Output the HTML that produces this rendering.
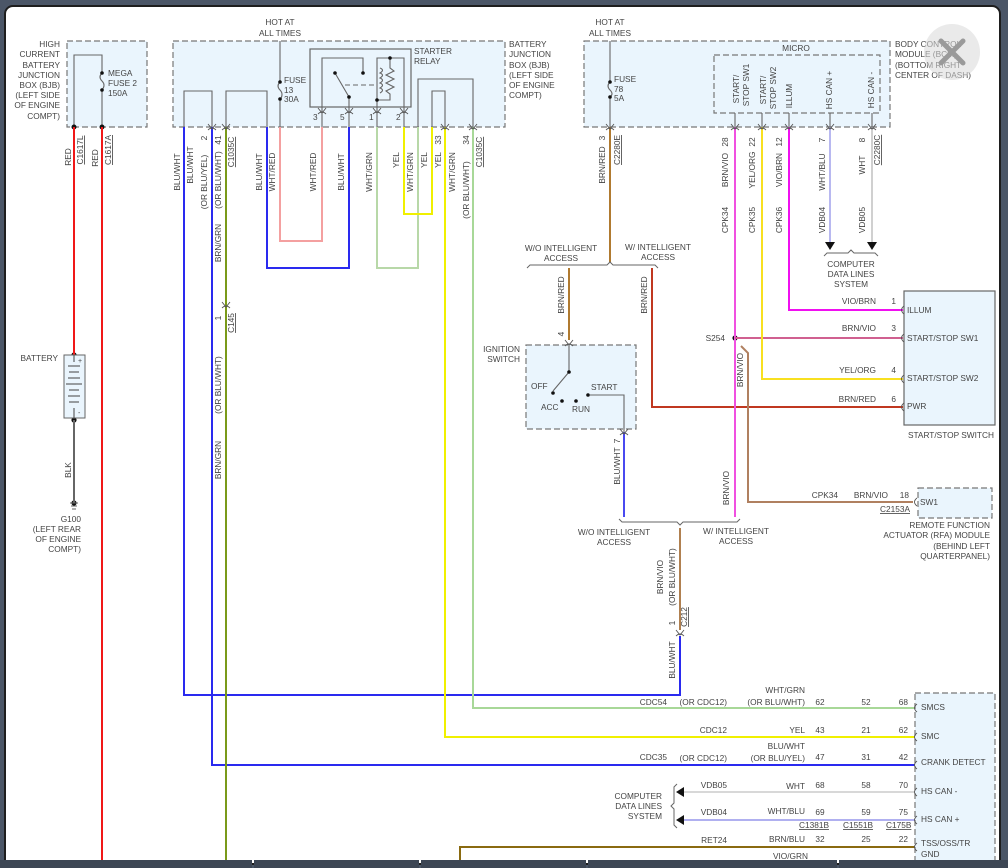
<!DOCTYPE html>
<html><head><meta charset="utf-8"><style>
html,body{margin:0;padding:0;background:#4b5667;width:1008px;height:868px;overflow:hidden}
#p{position:absolute;left:4px;top:5px;width:997px;height:860px;background:#fff;border:2px solid #1e1e1e;border-radius:9px 9px 0 0;box-sizing:border-box}
svg{position:absolute;left:0;top:0}
text{font-family:"Liberation Sans",sans-serif;font-size:8.3px;fill:#444}
.bar{position:absolute;top:860px;height:8px;background:#3d4654}
</style></head><body>
<div id="p"></div>
<svg width="1008" height="868" viewBox="0 0 1008 868">
<defs>
<g id="cn"><path d="M-4,-3 L0,2 L4,-3" fill="none" stroke="#555" stroke-width="0.9"/><path d="M-4,3 Q0,-1 4,3" fill="none" stroke="#555" stroke-width="0.9"/></g>
<g id="cl"><path d="M4,-4 Q-1,0 4,4" fill="none" stroke="#555" stroke-width="0.9"/></g>
</defs>
<g fill="#eaf5fd" stroke="#777" stroke-width="1.2" stroke-dasharray="6,3">
<rect x="67" y="41" width="80" height="86"/>
<rect x="173" y="41" width="332" height="86"/>
<rect x="584" y="41" width="306" height="86"/>
<rect x="526" y="345" width="110" height="84"/>
<rect x="918" y="488" width="74" height="30"/>
<rect x="915" y="693" width="80" height="180"/>
</g>
<rect x="714" y="55" width="166" height="58" fill="none" stroke="#777" stroke-width="1.2" stroke-dasharray="6,3"/>
<rect x="904" y="291" width="91" height="134" fill="#eaf5fd" stroke="#666" stroke-width="1.2"/>
<rect x="310" y="49" width="101" height="58" fill="none" stroke="#666" stroke-width="1.2"/>
<g fill="none" stroke="#666" stroke-width="1.1">
<path d="M74,127 V55 H102 V73 M102,90 V127"/>
<path d="M102,73 q-4,4 0,8 q4,4 0,9"/>
<path d="M280,41 V82 M280,100 V127"/><path d="M280,82 q-4,4 0,8 q4,4 0,10"/>
<path d="M610,41 V82 M610,97 V127"/><path d="M610,82 q-4,4 0,8 q4,4 0,7"/>
<path d="M184,127 V91 H212 V127 M226,127 V91 H267 V127"/>
<path d="M322,107 V58 H363 V73 M349,97 L335,73 M349,97 V127 M322,107 V127"/>
<path d="M377,127 V58 H404 V127 M390,58 V68 l4,3 -8,4 8,4 -8,4 8,4 -8,4 4,3 V100 H377"/>
<path d="M380,68 q5,2 0,5 q5,2 0,5 q5,2 0,5 q5,2 0,5 q5,2 0,5" />
<path d="M345,85 H375" stroke-dasharray="5,3"/>
<path d="M418,127 V79 H473 V127 M432,127 V91 H445 V127"/>
<path d="M735,113 V127 M762,113 V127 M789,113 V127 M830,113 V127 M872,113 V127"/>
<path d="M569,345 V372 L553,391 M590,395 H624 V432"/>
</g>
<g fill="#111">
<circle cx="74" cy="127" r="2.5"/><circle cx="102" cy="127" r="2.5"/><circle cx="102" cy="73" r="1.8"/><circle cx="102" cy="90" r="1.8"/>
<circle cx="280" cy="82" r="1.8"/><circle cx="280" cy="99" r="1.8"/><circle cx="610" cy="82" r="1.8"/><circle cx="610" cy="97" r="1.8"/>
<circle cx="363" cy="73" r="1.8"/><circle cx="335" cy="73" r="1.8"/><circle cx="349" cy="97" r="1.8"/><circle cx="390" cy="58" r="1.8"/><circle cx="377" cy="100" r="1.8"/>
<circle cx="569" cy="372" r="1.8"/><circle cx="553" cy="393" r="1.8"/><circle cx="562" cy="401" r="1.8"/><circle cx="576" cy="401" r="1.8"/><circle cx="588" cy="395" r="1.8"/>
<circle cx="735" cy="338" r="2.6"/><circle cx="74" cy="355" r="2.6"/><circle cx="74" cy="420" r="2.6"/><circle cx="74" cy="503" r="2.6"/>
</g>
<g fill="none" stroke-width="2">
<path d="M74,127 V355" stroke="#f01818"/><path d="M102,127 V868" stroke="#f01818"/>
<path d="M74,420 V503" stroke="#666"/>
<path d="M184,127 V695 H680 V636" stroke="#2a2aef"/>
<path d="M212,127 V765 H915" stroke="#2a2aef"/>
<path d="M226,127 V868" stroke="#7a9a1a"/>
<path d="M267,127 V268 H349 V127" stroke="#2a2aef"/>
<path d="M280,127 V241 H322 V127" stroke="#f4a0a0"/>
<path d="M377,127 V268 H418 V127" stroke="#b8d8a8"/>
<path d="M404,127 V214 H432 V127" stroke="#f0f000"/>
<path d="M445,127 V737 H915" stroke="#f0f000"/>
<path d="M473,127 V708 H915" stroke="#a8d898"/>
<path d="M610,127 V262" stroke="#b07a30"/>
<path d="M569,268 V340" stroke="#b07a30"/>
<path d="M652,268 V407 H903" stroke="#c03820"/>
<path d="M735,127 V517" stroke="#f050e0"/>
<path d="M735,338 H903" stroke="#d06090"/>
<path d="M741,346 L748,353 V502 H913" stroke="#b08060"/>
<path d="M762,127 V379 H903" stroke="#f8e020"/>
<path d="M789,127 V310 H903" stroke="#f010f0"/>
<path d="M830,127 V244" stroke="#b8b8f0"/><path d="M872,127 V244" stroke="#d0d0d0"/>
<path d="M624,432 V517" stroke="#4a4af0"/>
<path d="M680,528 V630" stroke="#b08050"/>
<path d="M684,792 H915" stroke="#d8d8d8"/><path d="M684,820 H915" stroke="#b0b0f0"/>
<path d="M460,868 V847 H915" stroke="#8a6a10"/>
</g>
<g fill="#111"><path d="M825,242 h10 l-5,8z M867,242 h10 l-5,8z M676,792 l8,-5 v10z M676,820 l8,-5 v10z"/></g>
<g fill="none" stroke="#666" stroke-width="1">
<path d="M527,268 l3,-3 H607 l3,-3 3,3 H655 l3,3"/>
<path d="M824,256 l3,-3 H848 l3,-3 3,3 H875 l3,3"/>
<path d="M619,519 l3,3 H677 l3,3 3,-3 H737 l3,-3"/>
<path d="M677,784 l-3,3 V803 l-3,3 3,3 V825 l3,3"/>
<path d="M70,503 h8 M71,506 h6 M72,509 h4"/>
</g>
<rect x="64" y="355" width="21" height="63" fill="#eaf5fd" stroke="#666"/>
<g stroke="#444" stroke-width="1"><path d="M74,355 V362 M68,366 h12 M69,372 h10 M68,378 h12 M66,384 h16 M69,390 h10 M68,396 h12 M69,402 h10 M74,408 V418"/></g>
<text x="78" y="363" style="font-size:7px">+</text><text x="78" y="415" style="font-size:7px">-</text>
<g>
<use href="#cn" x="212" y="127"/><use href="#cn" x="226" y="127"/><use href="#cn" x="322" y="111"/><use href="#cn" x="349" y="111"/><use href="#cn" x="377" y="111"/><use href="#cn" x="404" y="111"/>
<use href="#cn" x="445" y="127"/><use href="#cn" x="473" y="127"/><use href="#cn" x="610" y="127"/><use href="#cn" x="735" y="127"/><use href="#cn" x="762" y="127"/><use href="#cn" x="789" y="127"/><use href="#cn" x="830" y="127"/><use href="#cn" x="872" y="127"/>
<use href="#cn" x="569" y="343"/><use href="#cn" x="624" y="432"/><use href="#cn" x="680" y="633"/><use href="#cn" x="226" y="305"/>
<use href="#cl" x="900" y="310"/><use href="#cl" x="900" y="338"/><use href="#cl" x="900" y="379"/><use href="#cl" x="900" y="407"/><use href="#cl" x="913" y="502"/>
<use href="#cl" x="913" y="708"/><use href="#cl" x="913" y="737"/><use href="#cl" x="913" y="765"/><use href="#cl" x="913" y="792"/><use href="#cl" x="913" y="820"/><use href="#cl" x="913" y="847"/>
</g>
<g text-anchor="end">
<text x="60" y="47">HIGH</text><text x="60" y="57">CURRENT</text><text x="60" y="68">BATTERY</text><text x="60" y="78">JUNCTION</text><text x="60" y="88">BOX (BJB)</text><text x="60" y="98">(LEFT SIDE</text><text x="60" y="108">OF ENGINE</text><text x="60" y="119">COMPT)</text>
<text x="58" y="361">BATTERY</text>
<text x="81" y="522">G100</text><text x="81" y="532">(LEFT REAR</text><text x="81" y="542">OF ENGINE</text><text x="81" y="552">COMPT)</text>
<text x="520" y="352">IGNITION</text><text x="520" y="362">SWITCH</text>
<text x="725" y="341">S254</text>
<text x="876" y="304">VIO/BRN</text><text x="876" y="331">BRN/VIO</text><text x="876" y="373">YEL/ORG</text><text x="876" y="402">BRN/RED</text>
<text x="896" y="304">1</text><text x="896" y="331">3</text><text x="896" y="373">4</text><text x="896" y="402">6</text>
<text x="838" y="498">CPK34</text><text x="888" y="498">BRN/VIO</text><text x="909" y="498">18</text>
<text x="994" y="438">START/STOP SWITCH</text>
<text x="990" y="528">REMOTE FUNCTION</text><text x="990" y="538">ACTUATOR (RFA) MODULE</text><text x="990" y="549">(BEHIND LEFT</text><text x="990" y="559">QUARTERPANEL)</text>
<text x="805" y="693">WHT/GRN</text><text x="805" y="705">(OR BLU/WHT)</text><text x="667" y="705">CDC54</text><text x="727" y="705">(OR CDC12)</text>
<text x="727" y="733">CDC12</text><text x="805" y="733">YEL</text>
<text x="805" y="749">BLU/WHT</text><text x="805" y="761">(OR BLU/YEL)</text><text x="667" y="760">CDC35</text><text x="727" y="761">(OR CDC12)</text>
<text x="727" y="788">VDB05</text><text x="805" y="789">WHT</text>
<text x="727" y="815">VDB04</text><text x="805" y="814">WHT/BLU</text>
<text x="727" y="843">RET24</text><text x="805" y="842">BRN/BLU</text><text x="808" y="859">VIO/GRN</text>
<text x="662" y="799">COMPUTER</text><text x="662" y="809">DATA LINES</text><text x="662" y="819">SYSTEM</text>
<text x="908" y="705">68</text><text x="908" y="733">62</text><text x="908" y="760">42</text><text x="908" y="788">70</text><text x="908" y="815">75</text><text x="908" y="842">22</text>
</g>
<g text-anchor="middle">
<text x="280" y="25">HOT AT</text><text x="280" y="36">ALL TIMES</text>
<text x="610" y="25">HOT AT</text><text x="610" y="36">ALL TIMES</text>
<text x="796" y="51">MICRO</text>
<text x="561" y="251">W/O INTELLIGENT</text><text x="561" y="261">ACCESS</text>
<text x="658" y="250">W/ INTELLIGENT</text><text x="658" y="260">ACCESS</text>
<text x="851" y="267">COMPUTER</text><text x="851" y="277">DATA LINES</text><text x="851" y="287">SYSTEM</text>
<text x="614" y="535">W/O INTELLIGENT</text><text x="614" y="545">ACCESS</text>
<text x="736" y="534">W/ INTELLIGENT</text><text x="736" y="544">ACCESS</text>
<text x="820" y="705">62</text><text x="866" y="705">52</text><text x="820" y="733">43</text><text x="866" y="733">21</text><text x="820" y="760">47</text><text x="866" y="760">31</text>
<text x="820" y="788">68</text><text x="866" y="788">58</text><text x="820" y="815">69</text><text x="866" y="815">59</text><text x="820" y="842">32</text><text x="866" y="842">25</text>
</g>
<g text-anchor="start">
<text x="108" y="76">MEGA</text><text x="108" y="86">FUSE 2</text><text x="108" y="96">150A</text>
<text x="284" y="83">FUSE</text><text x="284" y="93">13</text><text x="284" y="102">30A</text>
<text x="614" y="82">FUSE</text><text x="614" y="92">78</text><text x="614" y="101">5A</text>
<text x="414" y="54">STARTER</text><text x="414" y="64">RELAY</text>
<text x="509" y="47">BATTERY</text><text x="509" y="57">JUNCTION</text><text x="509" y="68">BOX (BJB)</text><text x="509" y="78">(LEFT SIDE</text><text x="509" y="88">OF ENGINE</text><text x="509" y="98">COMPT)</text>
<text x="895" y="47">BODY CONTROL</text><text x="895" y="57">MODULE (BCM)</text><text x="895" y="68">(BOTTOM RIGHT</text><text x="895" y="78">CENTER OF DASH)</text>
<text x="313" y="120">3</text><text x="340" y="120">5</text><text x="369" y="120">1</text><text x="396" y="120">2</text>
<text x="531" y="389">OFF</text><text x="541" y="410">ACC</text><text x="572" y="412">RUN</text><text x="591" y="390">START</text>
<text x="907" y="313">ILLUM</text><text x="907" y="341">START/STOP SW1</text><text x="907" y="381">START/STOP SW2</text><text x="907" y="409">PWR</text>
<text x="920" y="505">SW1</text>
<text x="921" y="710">SMCS</text><text x="921" y="739">SMC</text><text x="921" y="765">CRANK DETECT</text><text x="921" y="794">HS CAN -</text><text x="921" y="822">HS CAN +</text><text x="921" y="846">TSS/OSS/TR</text><text x="921" y="857">GND</text>
<text x="880" y="512" text-decoration="underline">C2153A</text>
<text x="799" y="828" text-decoration="underline">C1381B</text><text x="843" y="828" text-decoration="underline">C1551B</text><text x="886" y="828" text-decoration="underline">C175B</text>
</g>
<g text-anchor="middle">
<text transform="translate(71,157) rotate(-90)">RED</text><text transform="translate(83,150) rotate(-90)" text-decoration="underline">C1617L</text>
<text transform="translate(98,158) rotate(-90)">RED</text><text transform="translate(111,150) rotate(-90)" text-decoration="underline">C1617A</text>
<text transform="translate(71,470) rotate(-90)">BLK</text>
<text transform="translate(180,172) rotate(-90)">BLU/WHT</text><text transform="translate(193,165) rotate(-90)">BLU/WHT</text><text transform="translate(207,182) rotate(-90)">(OR BLU/YEL)</text>
<text transform="translate(207,138) rotate(-90)">2</text><text transform="translate(221,140) rotate(-90)">41</text><text transform="translate(221,180) rotate(-90)">(OR BLU/WHT)</text>
<text transform="translate(234,152) rotate(-90)" text-decoration="underline">C1035C</text><text transform="translate(221,243) rotate(-90)">BRN/GRN</text>
<text transform="translate(221,318) rotate(-90)">1</text><text transform="translate(234,323) rotate(-90)" text-decoration="underline">C145</text>
<text transform="translate(221,385) rotate(-90)">(OR BLU/WHT)</text><text transform="translate(221,460) rotate(-90)">BRN/GRN</text>
<text transform="translate(262,172) rotate(-90)">BLU/WHT</text><text transform="translate(275,172) rotate(-90)">WHT/RED</text><text transform="translate(316,172) rotate(-90)">WHT/RED</text>
<text transform="translate(344,172) rotate(-90)">BLU/WHT</text><text transform="translate(372,172) rotate(-90)">WHT/GRN</text><text transform="translate(399,160) rotate(-90)">YEL</text>
<text transform="translate(413,172) rotate(-90)">WHT/GRN</text><text transform="translate(427,160) rotate(-90)">YEL</text><text transform="translate(441,160) rotate(-90)">YEL</text><text transform="translate(441,140) rotate(-90)">33</text>
<text transform="translate(455,172) rotate(-90)">WHT/GRN</text><text transform="translate(469,190) rotate(-90)">(OR BLU/WHT)</text><text transform="translate(469,140) rotate(-90)">34</text>
<text transform="translate(482,152) rotate(-90)" text-decoration="underline">C1035C</text>
<text transform="translate(605,165) rotate(-90)">BRN/RED</text><text transform="translate(605,138) rotate(-90)">3</text><text transform="translate(620,150) rotate(-90)" text-decoration="underline">C2280E</text>
<text transform="translate(728,170) rotate(-90)">BRN/VIO</text><text transform="translate(728,142) rotate(-90)">28</text>
<text transform="translate(755,170) rotate(-90)">YEL/ORG</text><text transform="translate(755,142) rotate(-90)">22</text>
<text transform="translate(782,170) rotate(-90)">VIO/BRN</text><text transform="translate(782,142) rotate(-90)">12</text>
<text transform="translate(825,172) rotate(-90)">WHT/BLU</text><text transform="translate(825,140) rotate(-90)">7</text>
<text transform="translate(865,165) rotate(-90)">WHT</text><text transform="translate(865,140) rotate(-90)">8</text><text transform="translate(880,150) rotate(-90)" text-decoration="underline">C2280C</text>
<text transform="translate(728,220) rotate(-90)">CPK34</text><text transform="translate(755,220) rotate(-90)">CPK35</text><text transform="translate(782,220) rotate(-90)">CPK36</text>
<text transform="translate(825,220) rotate(-90)">VDB04</text><text transform="translate(865,220) rotate(-90)">VDB05</text>
<text transform="translate(739,89) rotate(-90)">START/</text><text transform="translate(749,85) rotate(-90)">STOP SW1</text>
<text transform="translate(766,90) rotate(-90)">START/</text><text transform="translate(776,88) rotate(-90)">STOP SW2</text>
<text transform="translate(792,96) rotate(-90)">ILLUM</text><text transform="translate(832,90) rotate(-90)">HS CAN +</text><text transform="translate(874,90) rotate(-90)">HS CAN -</text>
<text transform="translate(564,295) rotate(-90)">BRN/RED</text><text transform="translate(647,295) rotate(-90)">BRN/RED</text>
<text transform="translate(564,334) rotate(-90)">4</text><text transform="translate(620,441) rotate(-90)">7</text><text transform="translate(620,466) rotate(-90)">BLU/WHT</text>
<text transform="translate(743,370) rotate(-90)">BRN/VIO</text><text transform="translate(729,488) rotate(-90)">BRN/VIO</text>
<text transform="translate(663,577) rotate(-90)">BRN/VIO</text><text transform="translate(675,577) rotate(-90)">(OR BLU/WHT)</text>
<text transform="translate(675,623) rotate(-90)">1</text><text transform="translate(687,617) rotate(-90)" text-decoration="underline">C212</text>
<text transform="translate(675,660) rotate(-90)">BLU/WHT</text>
</g>
<circle cx="952" cy="52" r="28" fill="#d8d8d8" opacity="0.55"/>
<path d="M941,41 L963,63 M963,41 L941,63" stroke="#9a9a9a" stroke-width="5" stroke-linecap="round"/>
</svg>
<div class="bar" style="left:0;width:252px"></div><div class="bar" style="left:254px;width:165px"></div><div class="bar" style="left:421px;width:165px"></div><div class="bar" style="left:588px;width:249px"></div><div class="bar" style="left:839px;width:169px"></div>
</body></html>
